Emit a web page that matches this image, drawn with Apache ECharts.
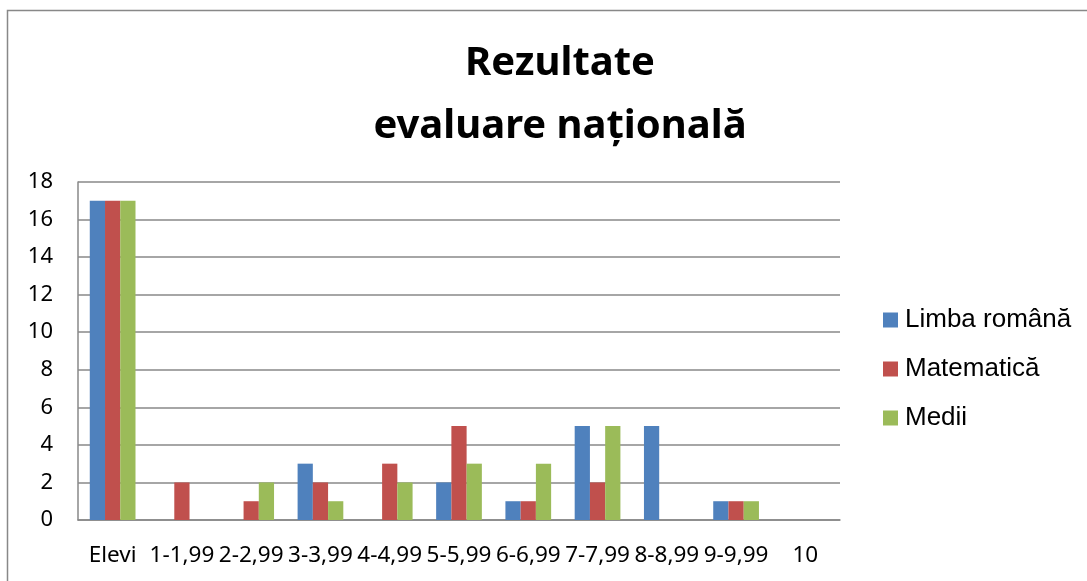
<!DOCTYPE html>
<html>
<head>
<meta charset="utf-8">
<script src="https://cdn.jsdelivr.net/npm/echarts@6/dist/echarts.min.js"></script>
<style>
  html, body { margin: 0; padding: 0; background: #fff; }
  #chart { width: 1087px; height: 581px; }
</style>
</head>
<body>
<div id="chart"></div>
<script>
// categorii si valori
var categories = ['Elevi', '1-1,99', '2-2,99', '3-3,99', '4-4,99', '5-5,99', '6-6,99', '7-7,99', '8-8,99', '9-9,99', '10'];
var limbaRomana = [17, 0, 0, 3, 0, 2, 1, 5, 5, 1, 0];
var matematica = [17, 2, 1, 2, 3, 5, 1, 2, 0, 1, 0];
var medii = [17, 0, 2, 1, 2, 3, 3, 5, 0, 1, 0];

var chart = echarts.init(document.getElementById('chart'));

var option = {
  backgroundColor: '#ffffff',
  animation: false,
  graphic: [{
    type: 'rect',
    shape: { x: 7.5, y: 10.5, width: 1100, height: 600 },
    style: { fill: 'none', stroke: '#888888', lineWidth: 1.5 },
    silent: true
  }],
  title: {
    text: 'Rezultate\nevaluare națională',
    left: 555,
    textAlign: 'center',
    top: 27,
    textStyle: {
      fontFamily: 'Noto Sans',
      fontWeight: 'bold',
      fontSize: 40,
      lineHeight: 63,
      color: '#000'
    }
  },
  legend: {
    orient: 'vertical',
    left: 883,
    top: 307,
    padding: 0,
    itemWidth: 15,
    itemHeight: 15,
    itemGap: 23,
    icon: 'rect',
    textStyle: { fontFamily: 'Liberation Sans', fontSize: 26, lineHeight: 26, color: '#000', padding: [0, 0, 0, 2] },
    data: ['Limba română', 'Matematică', 'Medii']
  },
  grid: { left: 78, right: 247, top: 182, bottom: 61 },
  xAxis: {
    type: 'category',
    data: categories,
    axisLine: { lineStyle: { color: '#888', width: 1.5 } },
    axisTick: { show: false },
    axisLabel: {
      interval: 0,
      hideOverlap: false,
      margin: 24,
      fontFamily: 'Noto Sans',
      fontSize: 22.5,
      color: '#000'
    }
  },
  yAxis: {
    type: 'value',
    min: 0,
    max: 18,
    interval: 2,
    axisLine: { show: true, lineStyle: { color: '#888', width: 1.5 } },
    axisTick: { show: false },
    splitLine: { lineStyle: { color: '#888', width: 1.5 } },
    axisLabel: {
      margin: 25,
      fontFamily: 'Noto Sans',
      fontSize: 22,
      color: '#000'
    }
  },
  series: [
    { name: 'Limba română', type: 'bar', data: limbaRomana, barGap: '0%', barCategoryGap: '34%', itemStyle: { color: '#4F81BD' } },
    { name: 'Matematică', type: 'bar', data: matematica, barGap: '0%', barCategoryGap: '34%', itemStyle: { color: '#C0504D' } },
    { name: 'Medii', type: 'bar', data: medii, barGap: '0%', barCategoryGap: '34%', itemStyle: { color: '#9BBB59' } }
  ]
};

chart.setOption(option);
</script>
</body>
</html>
